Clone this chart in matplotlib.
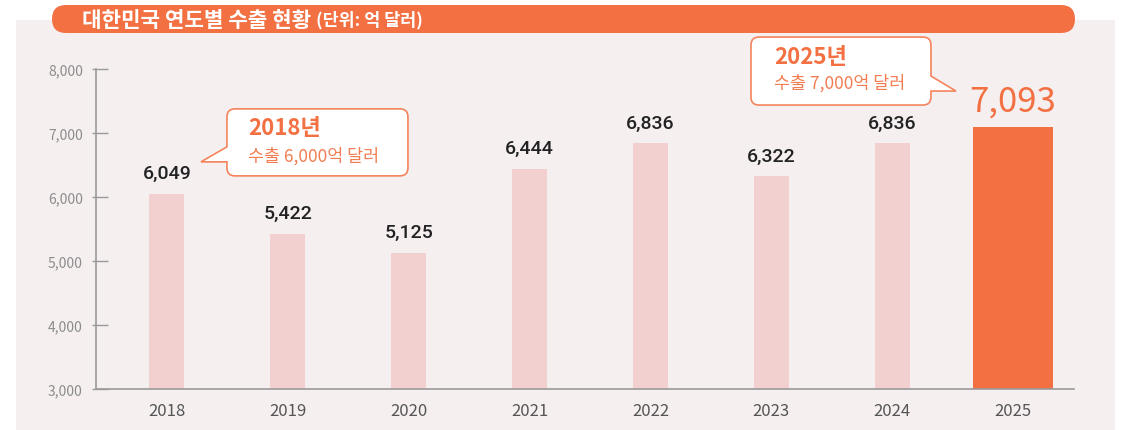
import matplotlib
matplotlib.use('Agg')
import matplotlib.pyplot as plt
from matplotlib.patches import FancyBboxPatch, PathPatch, Rectangle
from matplotlib.path import Path
from matplotlib.ticker import FixedLocator
import matplotlib.transforms as mtransforms

plt.rcParams['font.family'] = ['Noto Sans CJK KR', 'DejaVu Sans']

years = ['2018', '2019', '2020', '2021', '2022', '2023', '2024', '2025']
values = [6049, 5422, 5125, 6444, 6836, 6322, 6836, 7093]
value_labels = ['6,049', '5,422', '5,125', '6,444', '6,836', '6,322', '6,836', '7,093']
yticks = [3000, 4000, 5000, 6000, 7000, 8000]
ytick_labels = ['3,000', '4,000', '5,000', '6,000', '7,000', '8,000']
title_main = '대한민국 연도별 수출 현황'
title_unit = '(단위: 억 달러)'
callout_2018 = ['2018년', '수출 6,000억 달러']
callout_2025 = ['2025년', '수출 7,000억 달러']

ORANGE = '#F37043'
PINK = '#F2D0CF'
PANEL = '#F5EFF0'
EDGE = '#F4845A'

W, H = 1121, 431
fig = plt.figure(figsize=(W / 100, H / 100), dpi=100)
fig.patch.set_facecolor('white')
ident = mtransforms.IdentityTransform()

# background panel
fig.add_artist(Rectangle((16, 0), 1115 - 16, H - 21, transform=ident,
                         facecolor=PANEL, edgecolor='none', zorder=-2))

# title pill
fig.add_artist(FancyBboxPatch((52, H - 34), 1075 - 52, 28,
                              boxstyle='round,pad=0,rounding_size=14',
                              transform=ident, facecolor=ORANGE, edgecolor='none', zorder=1))
fig.text(82, H - 20.5, title_main, transform=ident, color='white', fontsize=15.3,
         fontweight='bold', va='center', ha='left', zorder=2)
fig.text(316, H - 20.5, title_unit, transform=ident, color='white', fontsize=12.5,
         fontweight='bold', va='center', ha='left', zorder=2)

ax = fig.add_axes([96 / W, 1 - 390 / H, (1074 - 96) / W, 320 / H])
ax.set_facecolor('none')

n = len(years)
colors = [PINK] * (n - 1) + [ORANGE]
widths = [0.29] * (n - 1) + [0.66]
ax.bar(range(n), values, width=widths, color=colors, zorder=2)

ax.set_xlim(-0.587, 7.505)
ax.set_ylim(3000, 8000)

for s in ['top', 'right']:
    ax.spines[s].set_visible(False)
for s in ['left', 'bottom']:
    ax.spines[s].set_color('#9A9A9A')
    ax.spines[s].set_linewidth(1.2)
    ax.spines[s].set_zorder(3)

ax.set_yticks(yticks, ytick_labels)
ax.tick_params(axis='y', which='major', direction='in', length=8.6, width=1,
               color='#9A9A9A', labelsize=10, labelcolor='#8C8C8C', pad=9.5)
ax.yaxis.set_minor_locator(FixedLocator(yticks))
ax.yaxis.remove_overlapping_locs = False
ax.tick_params(axis='y', which='minor', direction='out', length=2.9, width=1,
               color='#9A9A9A')

ax.set_xticks(range(n), years)
ax.tick_params(axis='x', length=0, pad=9, labelsize=12, labelcolor='#555555')

for i, (v, lab) in enumerate(zip(values, value_labels)):
    if i == n - 1:
        ax.annotate(lab, (i, v), xytext=(0, 11.5), textcoords='offset points',
                    ha='center', va='baseline', fontsize=25, color=ORANGE)
    else:
        ax.annotate(lab, (i, v), xytext=(0, 11.5), textcoords='offset points',
                    ha='center', va='baseline', fontsize=14, fontweight='medium',
                    family=['Roboto', 'DejaVu Sans'], color='#222222')


def rounded_box_with_pointer(L, R, B, T, tip, side, r=8, base=15):
    tx, ty = tip
    verts, codes = [], []
    if side == 'left':
        verts += [(L, ty), (L, B + r), (L, B), (L + r, B), (R - r, B), (R, B), (R, B + r),
                  (R, T - r), (R, T), (R - r, T), (L + r, T), (L, T), (L, T - r),
                  (L, ty + base), (tx, ty), (L, ty)]
        codes += [Path.MOVETO, Path.LINETO, Path.CURVE3, Path.CURVE3, Path.LINETO,
                  Path.CURVE3, Path.CURVE3, Path.LINETO, Path.CURVE3, Path.CURVE3,
                  Path.LINETO, Path.CURVE3, Path.CURVE3, Path.LINETO, Path.LINETO,
                  Path.CLOSEPOLY]
    else:
        verts += [(R, ty), (tx, ty), (R, ty + base), (R, T - r), (R, T), (R - r, T),
                  (L + r, T), (L, T), (L, T - r), (L, B + r), (L, B), (L + r, B),
                  (R - r, B), (R, B), (R, B + r), (R, ty)]
        codes += [Path.MOVETO, Path.LINETO, Path.LINETO, Path.LINETO, Path.CURVE3,
                  Path.CURVE3, Path.LINETO, Path.CURVE3, Path.CURVE3, Path.LINETO,
                  Path.CURVE3, Path.CURVE3, Path.LINETO, Path.CURVE3, Path.CURVE3,
                  Path.CLOSEPOLY]
    return Path(verts, codes)


# 2018 callout
ax0 = ax.transData.transform((0, values[0]))
tip = (ax0[0] + 34, ax0[1] + 32)
L = tip[0] + 26
R = L + 181
B = tip[1] - 14
T = tip[1] + 53
fig.add_artist(PathPatch(rounded_box_with_pointer(L, R, B, T, tip, 'left'), transform=ident,
                         facecolor='white', edgecolor=EDGE, lw=1.2, zorder=5))
fig.text(L + 21, tip[1] + 34, callout_2018[0], transform=ident, color=ORANGE, fontsize=16,
         fontweight='bold', va='center', ha='left', zorder=6)
fig.text(L + 21, tip[1] + 6, callout_2018[1], transform=ident, color='#F27D52', fontsize=12.5,
         va='center', ha='left', zorder=6)

# 2025 callout
ax7 = ax.transData.transform((n - 1, values[-1]))
tip = (ax7[0] - 57, ax7[1] + 36)
R = tip[0] - 25
L = R - 180
B = tip[1] - 14
T = tip[1] + 54
fig.add_artist(PathPatch(rounded_box_with_pointer(L, R, B, T, tip, 'right'), transform=ident,
                         facecolor='white', edgecolor=EDGE, lw=1.2, zorder=5))
fig.text(L + 23, tip[1] + 35, callout_2025[0], transform=ident, color=ORANGE, fontsize=16,
         fontweight='bold', va='center', ha='left', zorder=6)
fig.text(L + 23, tip[1] + 9, callout_2025[1], transform=ident, color='#F27D52', fontsize=12.5,
         va='center', ha='left', zorder=6)

fig.savefig('out.png', dpi=100, facecolor='white')
